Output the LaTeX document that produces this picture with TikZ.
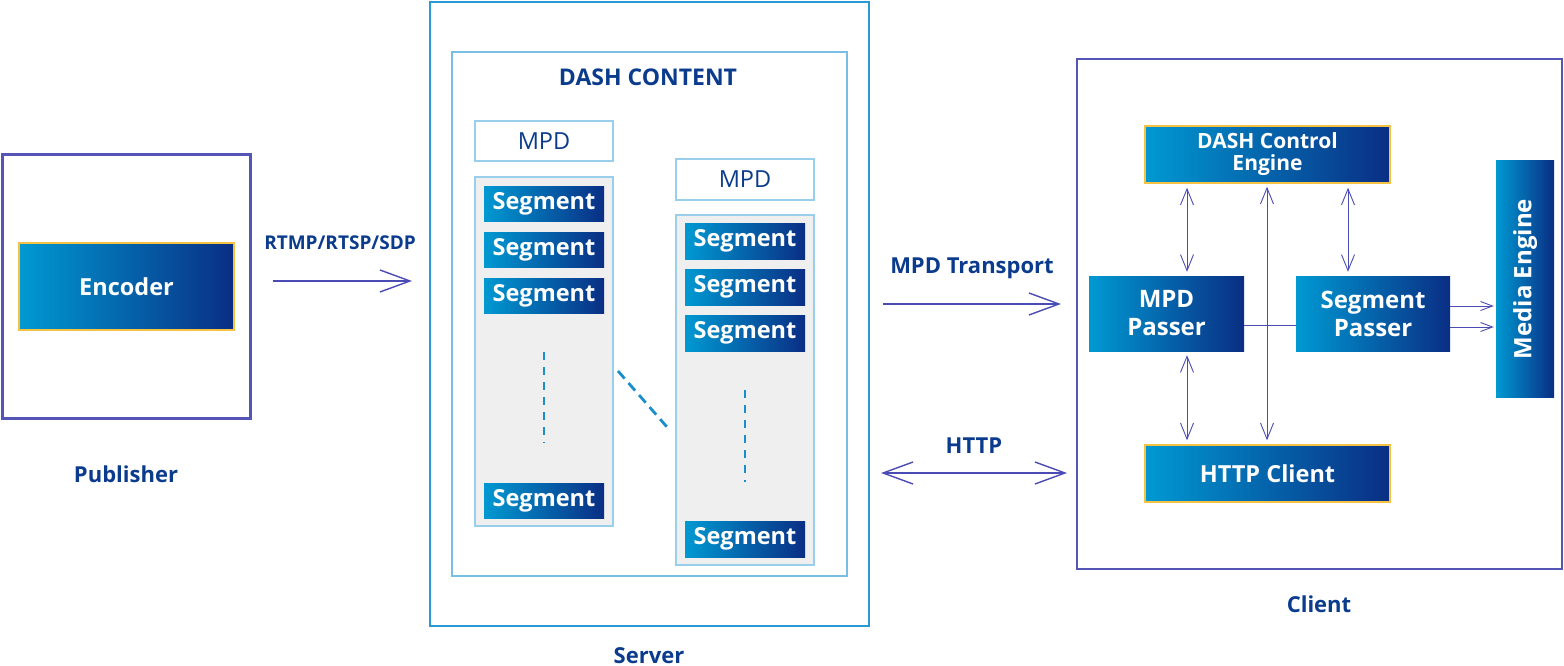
\documentclass[tikz,border=0pt]{standalone}
\usepackage{fontspec}
\setmainfont{Open Sans}
\usetikzlibrary{arrows.meta,calc}
\definecolor{gl}{HTML}{0099D2}
\definecolor{gr}{HTML}{0A2E84}
\definecolor{txt}{HTML}{0B3B8C}
\definecolor{arr}{HTML}{4B4BB5}
\definecolor{pbox}{HTML}{5555B8}
\definecolor{sbox}{HTML}{2B99D4}
\definecolor{dbox}{HTML}{79BFE5}
\definecolor{mpdb}{HTML}{9ACFEC}
\definecolor{panel}{HTML}{EFEFEF}
\definecolor{dashc}{HTML}{1A8ECC}
\definecolor{gold}{HTML}{F6C244}
\tikzset{
  grad/.style={rectangle, inner sep=0pt, left color=gl, right color=gr, text=white,
    font=\bfseries\fontsize{23.5}{27}\selectfont, align=center},
  goldb/.style={draw=gold, line width=1.5pt},
  seg/.style={grad, minimum width=120pt, minimum height=35pt},
  mpdbox/.style={rectangle, draw=mpdb, line width=1.2pt, fill=white, inner sep=0pt,
    minimum width=138pt, minimum height=40pt, text=txt, font=\fontsize{23.5}{27}\selectfont},
  colbox/.style={rectangle, draw=mpdb, line width=1.2pt, fill=panel, inner sep=0pt,
    minimum width=138pt},
  lbl/.style={text=txt, font=\bfseries\fontsize{22}{26}\selectfont, inner sep=0pt},
  bigarrow/.style={draw=arr, line width=1.8pt, -{Straight Barb[length=30pt,width=22pt,line width=1.4pt]}},
  bigdouble/.style={draw=arr, line width=1.8pt, {Straight Barb[length=30pt,width=22pt,line width=1.4pt]}-{Straight Barb[length=30pt,width=22pt,line width=1.4pt]}},
  smalldouble/.style={draw=arr, line width=0.9pt, {Straight Barb[length=16pt,width=13pt]}-{Straight Barb[length=16pt,width=13pt]}},
  smallarrow/.style={draw=arr, line width=0.9pt, -{Straight Barb[length=12pt,width=9pt]}},
  dotline/.style={draw=dashc, line width=2.3pt, dash pattern=on 8pt off 7pt},
}
\begin{document}
\begin{tikzpicture}[x=1pt,y=-1pt]
\useasboundingbox (0,0) rectangle (1564,666);

% Publisher
\node[rectangle, draw=pbox, line width=3pt, minimum width=248pt, minimum height=263pt, inner sep=0pt] (pub) at (126,286.5) {};
\node[grad, goldb, minimum width=215pt, minimum height=87pt] (enc) at (126.5,286.5) {Encoder};
\node[lbl] (publbl) at (126,474) {Publisher};

% Server
\node[rectangle, draw=sbox, line width=2pt, minimum width=439pt, minimum height=624pt, inner sep=0pt] (server) at (649.5,314) {};
\node[rectangle, draw=dbox, line width=1.5pt, minimum width=395pt, minimum height=524pt, inner sep=0pt] (dash) at (649.5,314) {};
\node[lbl, font=\bfseries\fontsize{23}{27}\selectfont] (dashlbl) at (648,77) {DASH CONTENT};
\node[lbl] (serverlbl) at (649,656) {Server};

\node[mpdbox] (mpd1) at (544,141) {MPD};
\node[colbox, minimum height=349pt] (col1) at (544,351.5) {};
\node[seg] (s11) at (544,203.5) {Segment};
\node[seg] (s12) at (544,249.5) {Segment};
\node[seg] (s13) at (544,295.5) {Segment};
\node[seg] (s14) at (544,500.5) {Segment};
\coordinate (d1a) at (544,352);
\coordinate (d1b) at (544,443);
\draw[dotline] (d1a) -- (d1b);

\node[mpdbox, minimum height=41pt] (mpd2) at (745,179.5) {MPD};
\node[colbox, minimum height=350pt] (col2) at (745,390) {};
\node[seg, minimum height=36pt] (s21) at (745,241) {Segment};
\node[seg, minimum height=36pt] (s22) at (745,287) {Segment};
\node[seg, minimum height=36pt] (s23) at (745,333) {Segment};
\node[seg, minimum height=36pt] (s24) at (745,539) {Segment};
\coordinate (d2a) at (745,390);
\coordinate (d2b) at (745,482);
\draw[dotline] (d2a) -- (d2b);

\coordinate (dga) at (618,371);
\coordinate (dgb) at (667,427);
\draw[draw=dashc, line width=2.8pt, dash pattern=on 10pt off 6pt] (dga) -- (dgb);

% Publisher -> Server
\node[text=txt, font=\bfseries\fontsize{19}{23}\selectfont, inner sep=0pt] (rtmp) at (340,243) {RTMP/RTSP/SDP};
\draw[bigarrow, shorten <=21pt, shorten >=17pt] (pub.east |- 0,281) -- (server.west |- 0,281);

% Client
\node[rectangle, draw=pbox, line width=2pt, minimum width=485pt, minimum height=510pt, inner sep=0pt] (client) at (1319.5,314) {};
\node[lbl] (clientlbl) at (1319,604) {Client};

\node[grad, goldb, minimum width=245pt, minimum height=57pt, font=\bfseries\fontsize{21}{22}\selectfont] (dce) at (1267.5,154.5) {DASH Control\\Engine};
\node[grad, minimum width=155pt, minimum height=75pt, font=\bfseries\fontsize{24}{28}\selectfont] (mpdp) at (1166.5,313.5) {MPD\\Passer};
\node[grad, minimum width=154pt, minimum height=75pt, font=\bfseries\fontsize{24}{28}\selectfont] (segp) at (1373,313.5) {Segment\\Passer};
\node[grad, minimum width=58pt, minimum height=236pt] (media) at (1525,279) {};
\node[text=white, font=\bfseries\fontsize{24}{27}\selectfont, rotate=90, inner sep=0pt] (medialbl) at (media.center) {Media Engine};
\node[grad, goldb, minimum width=245pt, minimum height=57pt] (httpc) at (1267.5,473.5) {HTTP Client};

% Server <-> Client
\node[lbl] (mpdt) at (972,268) {MPD Transport};
\draw[bigarrow, shorten <=13pt, shorten >=15pt] (server.east |- 0,304) -- (client.west |- 0,304);
\node[lbl] (httplbl) at (974,446) {HTTP};
\draw[bigdouble, shorten <=11pt, shorten >=9pt] (server.east |- 0,473) -- (client.west |- 0,473);

% inner client connectors
\draw[smalldouble, shorten <=4pt, shorten >=4pt] (dce.south -| 1187,0) -- (mpdp.north -| 1187,0);
\draw[smalldouble, shorten <=4pt, shorten >=4pt] (dce.south -| 1348,0) -- (segp.north -| 1348,0);
\draw[smalldouble, shorten <=4pt, shorten >=4pt] (mpdp.south -| 1187,0) -- (httpc.north -| 1187,0);
\draw[smalldouble, shorten <=3pt, shorten >=4pt] (dce.south -| 1267,0) -- (httpc.north -| 1267,0);
\draw[draw=arr, line width=0.9pt] (mpdp.east |- 0,325) -- (segp.west |- 0,325);
\draw[smallarrow, shorten >=2pt] (segp.east |- 0,306) -- (media.west |- 0,306);
\draw[smallarrow, shorten >=2pt] (segp.east |- 0,327) -- (media.west |- 0,327);
\end{tikzpicture}
\end{document}
